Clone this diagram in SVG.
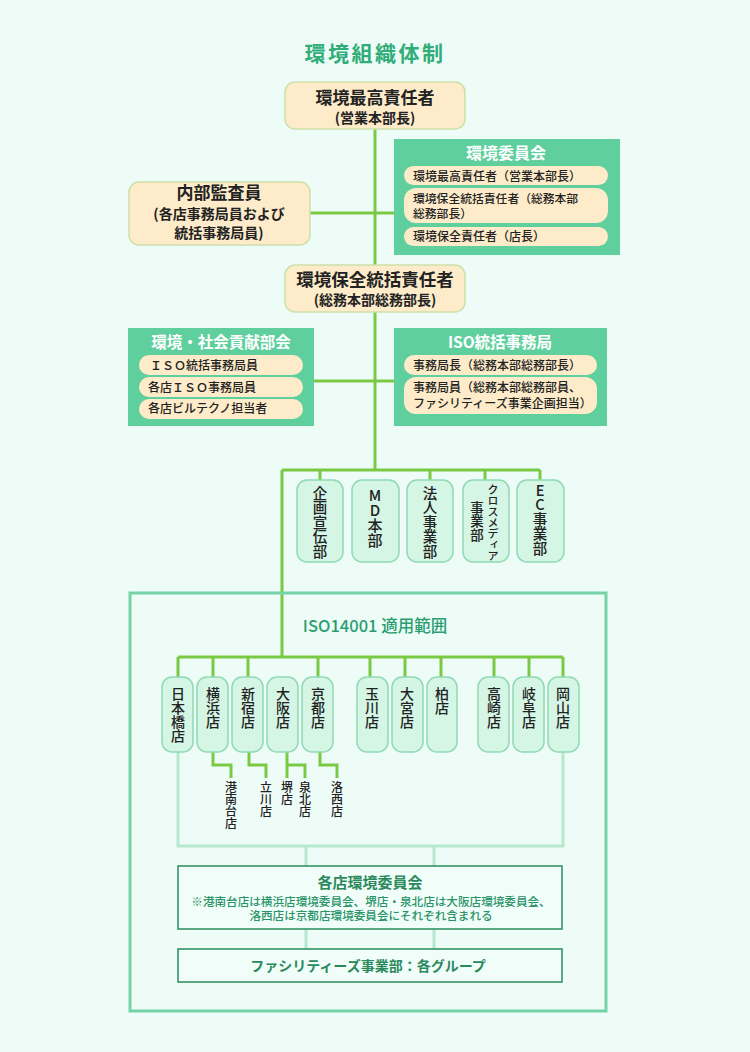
<svg xmlns="http://www.w3.org/2000/svg" width="750" height="1052" viewBox="0 0 750 1052">
<defs>
<style>
text{font-family:"Noto Sans CJK JP","Noto Sans",sans-serif;}
.bg{fill:#eefcf8;}
.peach{fill:#fdebc9;stroke:#cde0a8;stroke-width:1.5;}
.pill{fill:#fdebc9;}
.group{fill:#5fcf9e;}
.cell{fill:#d5f5e5;stroke:#8fd9b3;stroke-width:1.5;}
.g{stroke:#7ac943;stroke-width:3;fill:none;}
.l{stroke:#b5e9cf;stroke-width:3;fill:none;}
.hd{font-weight:700;font-size:17px;fill:#222;text-anchor:middle;}
.sub{font-weight:700;font-size:14px;fill:#222;text-anchor:middle;}
.wt{font-weight:700;font-size:15.5px;fill:#fff;text-anchor:middle;}
.pt{font-weight:500;font-size:12px;fill:#222;}
.v{writing-mode:vertical-rl;text-orientation:upright;font-weight:500;fill:#222;}
.dk{fill:#2a8a5c;}
</style>
</defs>
<rect class="bg" x="0" y="0" width="750" height="1052"/>

<text x="375" y="61" style="font-size:21px;font-weight:700;fill:#30ad78;letter-spacing:2.5px" text-anchor="middle">環境組織体制</text>

<g id="connectors">
<path class="g" d="M375 128V470"/>
<path class="g" d="M310 213H394"/>
<path class="g" d="M314 381H394"/>
<path class="g" d="M282 470H540M320 470V481M430 470V481M485 470V481M540 470V481"/>
<path class="g" d="M282 470V657"/>
<path class="g" d="M178 657H563M178 657V678M213 657V678M248 657V678M318 657V678M370 657V678M405 657V678M441 657V678M494 657V678M529 657V678M563 657V678"/>
<path class="g" d="M213 752V765H231V778M249 752V765H266V778M287 752V778M287 765H305V778M320 752V765H337V778"/>
<path class="l" d="M178 752V846H563V752M306 846V866M434 846V866M306 929V949M434 929V949"/>
</g>

<g id="iso-scope">
<rect x="130" y="593" width="476" height="418" fill="none" stroke="#74d2a6" stroke-width="3"/>
<text x="375" y="632" style="font-size:16.5px;font-weight:500;fill:#2a9e70" text-anchor="middle">ISO14001 適用範囲</text>
</g>

<g id="top-manager">
<rect class="peach" x="285" y="82" width="180" height="47" rx="10"/>
<text class="hd" x="375" y="103.5">環境最高責任者</text>
<text class="sub" x="375" y="123">(営業本部長)</text>
</g>

<g id="env-committee">
<rect class="group" x="394" y="139" width="226" height="116"/>
<text class="wt" x="506" y="159" style="font-size:16px">環境委員会</text>
<rect class="pill" x="404" y="166" width="204" height="19" rx="9.5"/>
<rect class="pill" x="404" y="188" width="204" height="35" rx="12"/>
<rect class="pill" x="404" y="227" width="204" height="19" rx="9.5"/>
<text class="pt" x="413" y="180.5">環境最高責任者（営業本部長）</text>
<text class="pt" x="413" y="203" style="font-size:11.8px">環境保全統括責任者（総務本部</text>
<text class="pt" x="413" y="218" style="font-size:11.8px">総務部長）</text>
<text class="pt" x="413" y="240.5">環境保全責任者（店長）</text>
</g>

<g id="internal-auditor">
<rect class="peach" x="129" y="182" width="181" height="63" rx="10"/>
<text class="hd" x="219" y="198.5">内部監査員</text>
<text class="hd" x="219" y="219" style="font-size:14px">(各店事務局員および</text>
<text class="hd" x="219" y="238" style="font-size:14px">統括事務局員)</text>
</g>

<g id="env-general-manager">
<rect class="peach" x="285" y="265" width="180" height="47" rx="10"/>
<text class="hd" x="375" y="286" style="font-size:17.5px">環境保全統括責任者</text>
<text class="sub" x="375" y="305">(総務本部総務部長)</text>
</g>

<g id="social-committee">
<rect class="group" x="128" y="328" width="186" height="98"/>
<text class="wt" x="221" y="348">環境・社会貢献部会</text>
<rect class="pill" x="139" y="355" width="164" height="20" rx="10"/>
<rect class="pill" x="139" y="377" width="164" height="20" rx="10"/>
<rect class="pill" x="139" y="399" width="164" height="20" rx="10"/>
<text class="pt" x="150" y="370">ＩＳＯ統括事務局員</text>
<text class="pt" x="148" y="391.5">各店ＩＳＯ事務局員</text>
<text class="pt" x="148" y="413">各店ビルテクノ担当者</text>
</g>

<g id="iso-office">
<rect class="group" x="394" y="328" width="213" height="98"/>
<text class="wt" x="500" y="348">ISO統括事務局</text>
<rect class="pill" x="404" y="355" width="193" height="20" rx="10"/>
<rect class="pill" x="404" y="377" width="193" height="37" rx="12"/>
<text class="pt" x="413" y="370">事務局長（総務本部総務部長）</text>
<text class="pt" x="413" y="392">事務局員（総務本部総務部員、</text>
<text class="pt" x="413" y="408">ファシリティーズ事業企画担当）</text>
</g>

<g id="dept-kikaku"><rect class="cell" x="297" y="480" width="46" height="82" rx="10"/><text class="v" x="320" y="486" style="font-size:14.5px">企画宣伝部</text></g>
<g id="dept-md"><rect class="cell" x="352" y="480" width="47" height="82" rx="10"/><text class="v" x="375" y="488" style="font-size:15px">MD本部</text></g>
<g id="dept-hojin"><rect class="cell" x="407" y="480" width="46" height="82" rx="10"/><text class="v" x="430" y="486" style="font-size:14.5px">法人事業部</text></g>
<g id="dept-cross"><rect class="cell" x="463" y="480" width="46" height="82" rx="10"/><text class="v" x="493" y="484" style="font-size:11px">クロスメディア</text><text class="v" x="477" y="501" style="font-size:13.5px">事業部</text></g>
<g id="dept-ec"><rect class="cell" x="517" y="480" width="47" height="82" rx="10"/><text class="v" x="540" y="483" style="font-size:14.5px">EC事業部</text></g>

<g id="store-nihonbashi"><rect class="cell" x="162" y="677" width="31" height="75" rx="10"/><text class="v" x="178" y="687" style="font-size:14px">日本橋店</text></g>
<g id="store-yokohama"><rect class="cell" x="197" y="677" width="31" height="75" rx="10"/><text class="v" x="213" y="687" style="font-size:14px">横浜店</text></g>
<g id="store-shinjuku"><rect class="cell" x="232" y="677" width="31" height="75" rx="10"/><text class="v" x="248" y="687" style="font-size:14px">新宿店</text></g>
<g id="store-osaka"><rect class="cell" x="267" y="677" width="31" height="75" rx="10"/><text class="v" x="283" y="687" style="font-size:14px">大阪店</text></g>
<g id="store-kyoto"><rect class="cell" x="302" y="677" width="31" height="75" rx="10"/><text class="v" x="318" y="687" style="font-size:14px">京都店</text></g>
<g id="store-tamagawa"><rect class="cell" x="357" y="677" width="31" height="75" rx="10"/><text class="v" x="372" y="687" style="font-size:14px">玉川店</text></g>
<g id="store-omiya"><rect class="cell" x="392" y="677" width="31" height="75" rx="10"/><text class="v" x="407" y="687" style="font-size:14px">大宮店</text></g>
<g id="store-kashiwa"><rect class="cell" x="427" y="677" width="30" height="75" rx="10"/><text class="v" x="442" y="687" style="font-size:14px">柏店</text></g>
<g id="store-takasaki"><rect class="cell" x="478" y="677" width="31" height="75" rx="10"/><text class="v" x="494" y="687" style="font-size:14px">高崎店</text></g>
<g id="store-gifu"><rect class="cell" x="513" y="677" width="31" height="75" rx="10"/><text class="v" x="529" y="687" style="font-size:14px">岐阜店</text></g>
<g id="store-okayama"><rect class="cell" x="548" y="677" width="31" height="75" rx="10"/><text class="v" x="563" y="687" style="font-size:14px">岡山店</text></g>

<g id="sub-konandai"><text class="v" x="231" y="781" style="font-size:12px">港南台店</text></g>
<g id="sub-tachikawa"><text class="v" x="266" y="781" style="font-size:12px">立川店</text></g>
<g id="sub-sakai"><text class="v" x="287" y="781" style="font-size:12px">堺店</text></g>
<g id="sub-senboku"><text class="v" x="305" y="781" style="font-size:12px">泉北店</text></g>
<g id="sub-rakusai"><text class="v" x="337" y="781" style="font-size:12px">洛西店</text></g>

<g id="store-committee">
<rect x="178" y="866" width="384" height="63" fill="#f1fdf9" stroke="#2a8a5c" stroke-width="1.5"/>
<text class="dk" x="370" y="888" style="font-size:15px;font-weight:700" text-anchor="middle">各店環境委員会</text>
<text x="371" y="906" style="font-size:11.6px;font-weight:500;fill:#2a9468" text-anchor="middle">※港南台店は横浜店環境委員会、堺店・泉北店は大阪店環境委員会、</text>
<text x="371" y="920" style="font-size:11.6px;font-weight:500;fill:#2a9468" text-anchor="middle">洛西店は京都店環境委員会にそれぞれ含まれる</text>
</g>

<g id="facilities">
<rect x="178" y="949" width="384" height="33" fill="#f1fdf9" stroke="#2a8a5c" stroke-width="1.5"/>
<text class="dk" x="368" y="971" style="font-size:14px;font-weight:700" text-anchor="middle">ファシリティーズ事業部：各グループ</text>
</g>
</svg>
